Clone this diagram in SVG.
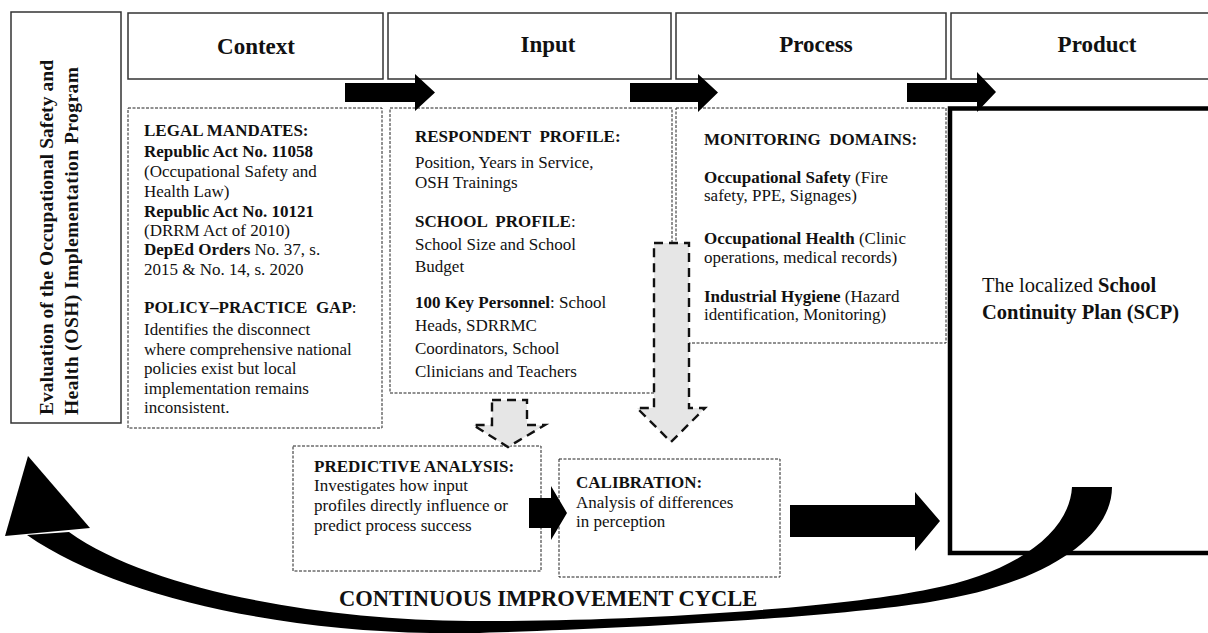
<svg xmlns="http://www.w3.org/2000/svg" width="1208" height="633" viewBox="0 0 1208 633">
<style>
text{font-family:"Liberation Serif","Times New Roman",serif;fill:#111}
.h{font-size:23px;font-weight:bold;text-anchor:middle}
.t{font-size:17px}
.b{font-weight:bold}
.hb{fill:#fff;stroke:#333;stroke-width:1.5}
.db{fill:#fff;stroke:#222;stroke-width:1;stroke-dasharray:3 1.5}
.ga{fill:#e6e6e6;stroke:#111;stroke-width:2.4;stroke-dasharray:9 6}
.ba{fill:#000}
</style>
<rect width="1208" height="633" fill="#fff"/>

<g id="title">
<rect class="hb" x="11" y="12" width="110" height="411"/>
<text class="b" font-size="19.5" transform="translate(53,415) rotate(-90)" textLength="355" lengthAdjust="spacing">Evaluation of the Occupational Safety and</text>
<text class="b" font-size="19.5" transform="translate(78,415) rotate(-90)" textLength="348" lengthAdjust="spacing">Health (OSH) Implementation Program</text>
</g>

<g id="h-context"><rect class="hb" x="128" y="13" width="255" height="66"/><text class="h" x="256" y="54">Context</text></g>
<g id="h-input"><rect class="hb" x="388" y="13" width="283" height="66"/><text class="h" x="548" y="52">Input</text></g>
<g id="h-process"><rect class="hb" x="676" y="13" width="270" height="66"/><text class="h" x="816" y="52">Process</text></g>
<g id="h-product"><rect class="hb" x="951" y="13" width="300" height="66"/><text class="h" x="1097" y="52">Product</text></g>

<g id="context">
<rect class="db" x="128" y="108" width="254" height="320"/>
<text class="t">
<tspan class="b" x="144" y="136">LEGAL MANDATES:</tspan>
<tspan class="b" x="144" y="157">Republic Act No. 11058</tspan>
<tspan x="144" y="177">(Occupational Safety and</tspan>
<tspan x="144" y="197">Health Law)</tspan>
<tspan class="b" x="144" y="217">Republic Act No. 10121</tspan>
<tspan x="144" y="236">(DRRM Act of 2010)</tspan>
<tspan x="144" y="255"><tspan class="b">DepEd Orders</tspan> No. 37, s.</tspan>
<tspan x="144" y="275">2015 &amp; No. 14, s. 2020</tspan>
<tspan x="144" y="313" xml:space="preserve"><tspan class="b">POLICY–PRACTICE  GAP</tspan>:</tspan>
<tspan x="144" y="335">Identifies the disconnect</tspan>
<tspan x="144" y="355">where comprehensive national</tspan>
<tspan x="144" y="374">policies exist but local</tspan>
<tspan x="144" y="394">implementation remains</tspan>
<tspan x="144" y="413">inconsistent.</tspan>
</text>
</g>

<g id="input">
<rect class="db" x="390" y="108" width="282" height="285"/>
<text class="t">
<tspan class="b" x="415" y="142" xml:space="preserve">RESPONDENT  PROFILE:</tspan>
<tspan x="415" y="168">Position, Years in Service,</tspan>
<tspan x="415" y="188">OSH Trainings</tspan>
<tspan x="415" y="227" xml:space="preserve"><tspan class="b">SCHOOL  PROFILE</tspan>:</tspan>
<tspan x="415" y="250">School Size and School</tspan>
<tspan x="415" y="272">Budget</tspan>
<tspan x="415" y="308"><tspan class="b">100 Key Personnel</tspan>: School</tspan>
<tspan x="415" y="331">Heads, SDRRMC</tspan>
<tspan x="415" y="354">Coordinators, School</tspan>
<tspan x="415" y="377">Clinicians and Teachers</tspan>
</text>
</g>

<g id="process">
<rect class="db" x="676" y="108" width="270" height="235"/>
<text class="t">
<tspan class="b" x="704" y="145" xml:space="preserve">MONITORING  DOMAINS:</tspan>
<tspan x="704" y="183"><tspan class="b">Occupational Safety</tspan> (Fire</tspan>
<tspan x="704" y="201">safety, PPE, Signages)</tspan>
<tspan x="704" y="244"><tspan class="b">Occupational Health</tspan> (Clinic</tspan>
<tspan x="704" y="263">operations, medical records)</tspan>
<tspan x="704" y="302"><tspan class="b">Industrial Hygiene</tspan> (Hazard</tspan>
<tspan x="704" y="320">identification, Monitoring)</tspan>
</text>
</g>

<g id="product">
<rect x="950" y="108.5" width="300" height="444.5" fill="#fff" stroke="#000" stroke-width="4.5"/>
<text font-size="20.5"><tspan x="982" y="292">The localized <tspan class="b">School</tspan></tspan><tspan class="b" x="982" y="319">Continuity Plan (SCP)</tspan></text>
</g>

<g id="predictive">
<rect class="db" x="293" y="446" width="248" height="125"/>
<text class="t"><tspan class="b" x="314" y="472">PREDICTIVE ANALYSIS:</tspan><tspan x="314" y="491">Investigates how input</tspan><tspan x="314" y="511">profiles directly influence or</tspan><tspan x="314" y="531">predict process success</tspan></text>
</g>

<g id="calibration">
<rect class="db" x="559" y="459" width="221" height="118"/>
<text class="t"><tspan class="b" x="576" y="488">CALIBRATION:</tspan><tspan x="576" y="508">Analysis of differences</tspan><tspan x="576" y="527">in perception</tspan></text>
</g>

<g id="connectors">
<path class="ba" d="M345 83 H415 V74 L435 92.5 L415 111 V102 H345 Z"/>
<path class="ba" d="M630 83 H698 V74 L718 92.5 L698 112 V102 H630 Z"/>
<path class="ba" d="M907 83 H977 V72 L996 92 L977 112 V102 H907 Z"/>
<path class="ga" d="M654 243 H689 V408 H705 L671 442 L637 408 H654 Z"/>
<path class="ga" d="M492 400 H527 V425 H545 L508 447 L473 425 H492 Z"/>
<path class="ba" d="M529 498 H551 V486 L567 513 L551 540 V528 H529 Z"/>
<path class="ba" d="M790 505 H915 V492 L940 521 L915 551 V537 H790 Z"/>
<path class="ba" d="M1112 487 C1112 540 1040 585 930 602 C830 618 600 630 470 633 C300 636 120 600 27 535 L69 532 C150 590 320 620 470 621 C650 622 850 606 930 589 C1020 572 1070 530 1072 487 Z"/>
<path class="ba" d="M28 456 L90 528 L5 536 Z"/>
</g>

<text class="b" font-size="22.5" x="339" y="606">CONTINUOUS IMPROVEMENT CYCLE</text>
</svg>
